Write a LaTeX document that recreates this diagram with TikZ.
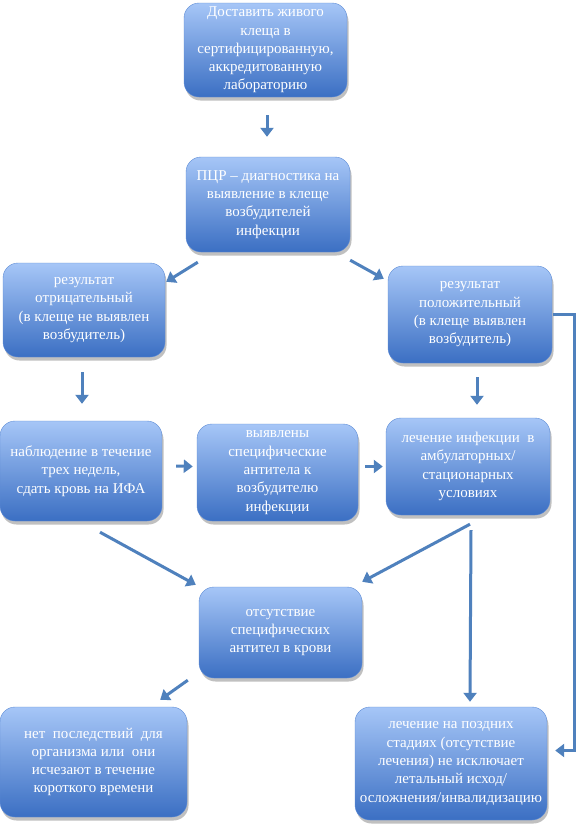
\documentclass[tikz,border=0pt]{standalone}
\usepackage{fontspec}
\setmainfont{Liberation Serif}
\usetikzlibrary{shadows,arrows.meta,calc}
\definecolor{arrc}{HTML}{4F81BD}
\definecolor{boxtop}{HTML}{A6C6F7}
\definecolor{boxbot}{HTML}{3B6FC3}
\definecolor{boxedge}{HTML}{5E8CD6}
\tikzset{
  fbox/.style={rounded corners=15pt, top color=boxtop, bottom color=boxbot, draw=boxedge, line width=0.4pt,
    drop shadow={shadow xshift=1.5pt, shadow yshift=-3.5pt, opacity=0.35, fill=black!70},
    text=white, align=center, font=\rmfamily\fontsize{15}{18.3}\selectfont, inner sep=0pt},
  conn/.style={draw=arrc, line width=3pt, -{Triangle[length=9pt,width=13pt]}}
}
\begin{document}
\begin{tikzpicture}[x=1pt,y=-1pt]
\useasboundingbox (0,0) rectangle (586,828);
\fill[white] (0,0) rectangle (586,828);

\node[fbox, minimum width=163pt, minimum height=94pt] (b1) at (265.5,50)
 {Доставить живого\\клеща в\\сертифицированную,\\аккредитованную\\лабораторию};
\node[fbox, minimum width=164pt, minimum height=95pt] (b2) at (268,204.5)
 {ПЦР – диагностика на\\выявление в клеще\\возбудителей\\инфекции};
\node[fbox, minimum width=162pt, minimum height=94pt] (b3) at (84,310)
 {результат\\отрицательный\\(в клеще не выявлен\\возбудитель)};
\node[fbox, minimum width=164pt, minimum height=97pt] (b4) at (470,314.5)
 {результат\\положительный\\(в клеще выявлен\\возбудитель)};
\node[fbox, minimum width=162pt, minimum height=100pt] (b5) at (81,471)
 {наблюдение в течение\\трех недель,\\сдать кровь на ИФА};
\node[fbox, minimum width=161pt, minimum height=97pt] (b6) at (277.5,472.5)
 {выявлены\\специфические\\антитела к\\возбудителю\\инфекции};
\node[fbox, minimum width=164pt, minimum height=97pt] (b7) at (468,466.5)
 {лечение инфекции\ \ в\\амбулаторных/\\стационарных\\условиях};
\node[fbox, minimum width=163pt, minimum height=91pt] (b8) at (280.5,632.5)
 {отсутствие\\специфических\\антител в крови};
\node[fbox, minimum width=187pt, minimum height=110pt] (b9) at (93.5,762)
 {нет\ \ последствий\ \ для\\организма или\ \ они\\исчезают в течение\\короткого времени};
\node[fbox, minimum width=192pt, minimum height=113pt] (b10) at (451,763.5)
 {лечение на поздних\\стадиях (отсутствие\\лечения) не исключает\\летальный исход/\\осложнения/инвалидизацию};

\draw[conn] ([shift={(1.5,18)}]b1.south) -- ([shift={(-1,-20)}]b2.north);
\draw[conn] ([shift={(12,10)}]b2.south west) -- ([shift={(1,19)}]b3.north east);
\draw[conn] ([shift={(0,8)}]b2.south east) -- ([shift={(-4,13)}]b4.north west);
\draw[conn] ([shift={(-2,15)}]b3.south) -- ([shift={(1,-17)}]b5.north);
\draw[conn] ([shift={(7,14)}]b4.south) -- ([shift={(9,-13)}]b7.north);
\draw[conn] ([shift={(14,-5)}]b5.east) -- ([shift={(-4,-6)}]b6.west);
\draw[conn] ([shift={(7,-6)}]b6.east) -- ([shift={(-3,0)}]b7.west);
\draw[conn] ([shift={(19,11)}]b5.south) -- ([shift={(-3,-2)}]b8.north west);
\draw[conn] ([shift={(2,9)}]b7.south) -- ([shift={(0,-5)}]b8.north east);
\draw[conn] ([shift={(3,15)}]b7.south) -- ([shift={(19,-5)}]b10.north);
\draw[conn] ([shift={(-11,2)}]b8.south west) -- ([shift={(-27,-7)}]b9.north east);
\draw[conn] ([xshift=1]b4.east) -- ++(21,0) |- ([shift={(8,-13)}]b10.east);
\end{tikzpicture}
\end{document}
